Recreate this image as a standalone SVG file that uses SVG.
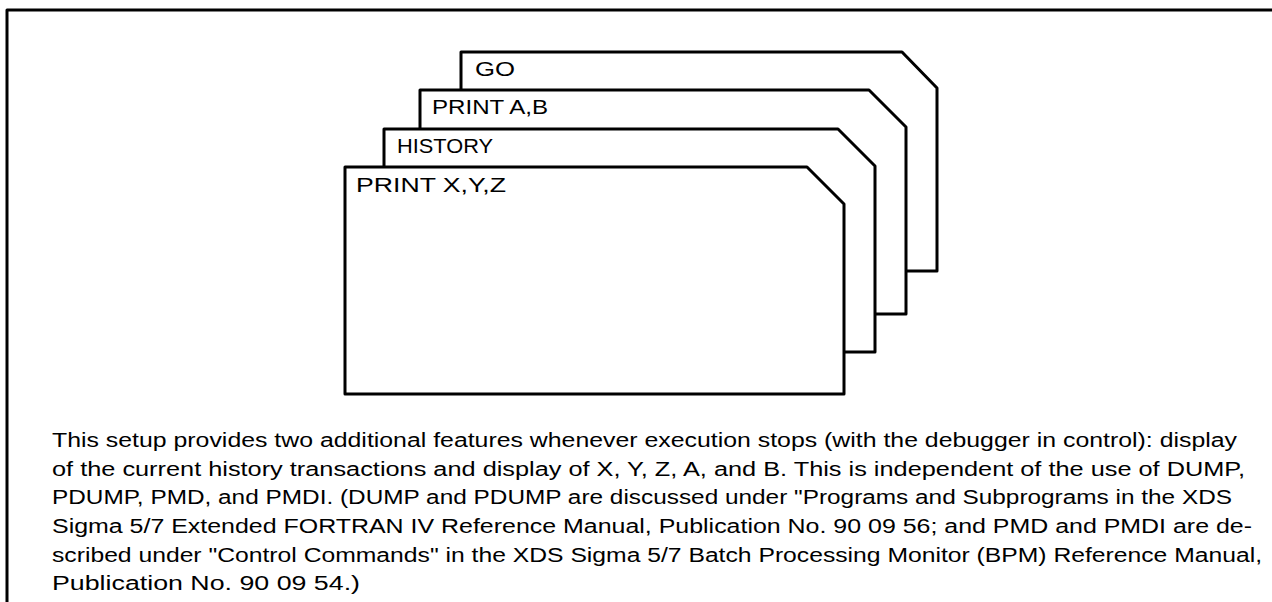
<svg xmlns="http://www.w3.org/2000/svg" width="1272" height="602" viewBox="0 0 1272 602">
<style>
.card{fill:#fff;stroke:#000;stroke-width:3;stroke-linejoin:round}
.lbl{font-family:"Liberation Sans",Arial,sans-serif;font-size:21px;fill:#000}
.para{font-family:"Liberation Sans",Arial,sans-serif;font-size:20px;fill:#000}
.frame{fill:none;stroke:#000;stroke-width:3;stroke-linejoin:round}
</style>
<rect x="0" y="0" width="1272" height="602" fill="#fff"/>
<path class="frame" d="M7,602 V10 H1272"/>
<g id="card-go">
<polygon class="card" points="461,271 461,52 902,52 937,88 937,271"/>
<text class="lbl" x="475" y="76" textLength="40" lengthAdjust="spacingAndGlyphs">GO</text>
</g>
<g id="card-print-ab">
<polygon class="card" points="420,314 420,90 869,90 906,127 906,314"/>
<text class="lbl" x="432" y="114" textLength="116" lengthAdjust="spacingAndGlyphs">PRINT A,B</text>
</g>
<g id="card-history">
<polygon class="card" points="384,352 384,129 838,129 875,166 875,352"/>
<text class="lbl" x="397" y="153" textLength="96" lengthAdjust="spacingAndGlyphs">HISTORY</text>
</g>
<g id="card-print-xyz">
<polygon class="card" points="345,394 345,167 807,167 844,204 844,394"/>
<text class="lbl" x="356" y="192" textLength="150" lengthAdjust="spacingAndGlyphs">PRINT X,Y,Z</text>
</g>
<g id="connectors"></g>
<g id="caption">
<text class="para" x="52" y="447" textLength="1185" lengthAdjust="spacingAndGlyphs">This setup provides two additional features whenever execution stops (with the debugger in control):  display</text>
<text class="para" x="52" y="476" textLength="1193" lengthAdjust="spacingAndGlyphs">of the current history transactions and display of X, Y, Z, A, and B.  This is independent of the use of DUMP,</text>
<text class="para" x="52" y="504" textLength="1180" lengthAdjust="spacingAndGlyphs">PDUMP, PMD, and PMDI.  (DUMP and PDUMP are discussed under "Programs and Subprograms in the XDS</text>
<text class="para" x="52" y="533" textLength="1200" lengthAdjust="spacingAndGlyphs">Sigma 5/7 Extended FORTRAN IV Reference Manual, Publication No. 90 09 56; and PMD and PMDI are de-</text>
<text class="para" x="52" y="562" textLength="1210" lengthAdjust="spacingAndGlyphs">scribed under "Control Commands" in the XDS Sigma 5/7 Batch Processing Monitor (BPM) Reference Manual,</text>
<text class="para" x="52" y="590" textLength="308" lengthAdjust="spacingAndGlyphs">Publication No. 90 09 54.)</text>
</g>
</svg>
